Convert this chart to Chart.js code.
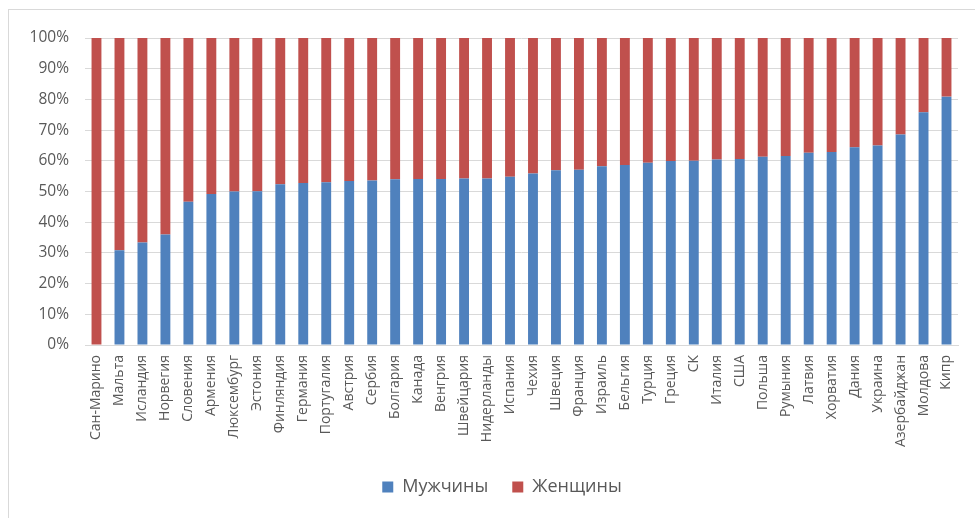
<!DOCTYPE html>
<html>
<head>
<meta charset="utf-8">
<script src="https://cdn.jsdelivr.net/npm/chart.js@4.4.1/dist/chart.umd.min.js"></script>
<style>
  html, body { margin: 0; padding: 0; background: #fff; overflow: hidden; }
  #wrap { position: relative; width: 975px; height: 518px; }
  #frame { position: absolute; left: 8px; top: 9px; width: 1200px; height: 800px;
           border: 1px solid #d9d9d9; box-sizing: border-box; }
  canvas { position: absolute; left: 0; top: 0; }
</style>
</head>
<body>
<div id="wrap">
  <div id="frame"></div>
  <canvas id="chart" width="975" height="518"></canvas>
</div>
<script>
// Countries, sorted by the share of men
const countries = ['Сан-Марино', 'Мальта', 'Исландия', 'Норвегия', 'Словения', 'Армения',
  'Люксембург', 'Эстония', 'Финляндия', 'Германия', 'Португалия', 'Австрия', 'Сербия',
  'Болгария', 'Канада', 'Венгрия', 'Швейцария', 'Нидерланды', 'Испания', 'Чехия',
  'Швеция', 'Франция', 'Израиль', 'Бельгия', 'Турция', 'Греция', 'СК', 'Италия', 'США',
  'Польша', 'Румыния', 'Латвия', 'Хорватия', 'Дания', 'Украина', 'Азербайджан',
  'Молдова', 'Кипр'];

// Share of men, %
const men = [0, 30.9, 33.4, 36.0, 46.7, 49.2, 50.0, 50.1, 52.4, 52.8, 53.0, 53.4, 53.6,
  54.0, 54.1, 54.1, 54.2, 54.2, 54.8, 55.9, 56.9, 57.1, 58.2, 58.6, 59.4, 59.9, 60.0,
  60.4, 60.6, 61.3, 61.6, 62.6, 62.9, 64.4, 65.0, 68.6, 75.8, 80.9];

// Share of women, %
const women = [100, 69.1, 66.6, 64.0, 53.3, 50.8, 50.0, 49.9, 47.6, 47.2, 47.0, 46.6, 46.4,
  46.0, 45.9, 45.9, 45.8, 45.8, 45.2, 44.1, 43.1, 42.9, 41.8, 41.4, 40.6, 40.1, 40.0,
  39.6, 39.4, 38.7, 38.4, 37.4, 37.1, 35.6, 35.0, 31.4, 24.2, 19.1];

// Y axis ticks, %
const yTicks = [0, 10, 20, 30, 40, 50, 60, 70, 80, 90, 100];

const FONT = '"Open Sans", "Liberation Sans", sans-serif';
const TEXT = '#595959';
const GRID = '#d9d9d9';

// Nudges the legend row to the right of the plot's centre line
const legendShift = {
  id: 'legendShift',
  afterLayout(chart) {
    const lg = chart.legend;
    if (lg) { lg.left += 46; }
  }
};

new Chart(document.getElementById('chart'), {
  type: 'bar',
  data: {
    labels: countries,
    datasets: [
      { label: 'Мужчины', data: men, backgroundColor: '#4F81BD',
        categoryPercentage: 0.43, barPercentage: 1 },
      { label: 'Женщины', data: women, backgroundColor: '#C0504D',
        categoryPercentage: 0.43, barPercentage: 1 }
    ]
  },
  plugins: [legendShift],
  options: {
    responsive: false,
    animation: false,
    devicePixelRatio: 1,
    layout: { padding: { top: 38, right: 17, bottom: 12, left: 0 } },
    plugins: {
      tooltip: { enabled: false },
      legend: {
        position: 'bottom',
        labels: {
          font: { family: FONT, size: 18 },
          color: TEXT,
          boxWidth: 11,
          boxHeight: 11,
          padding: 24
        }
      }
    },
    scales: {
      x: {
        stacked: true,
        grid: { display: false, drawTicks: false },
        border: { display: true, color: GRID, width: 1 },
        ticks: {
          font: { family: FONT, size: 14 },
          color: TEXT,
          minRotation: 90,
          maxRotation: 90,
          autoSkip: false,
          padding: 10
        },
        afterFit: s => { s.height = 109; }
      },
      y: {
        stacked: true,
        min: 0,
        max: 100,
        afterBuildTicks: s => { s.ticks = yTicks.map(v => ({ value: v })); },
        grid: { color: GRID, lineWidth: 1, drawTicks: false },
        border: { display: false },
        ticks: {
          font: { family: FONT, size: 15.5 },
          color: TEXT,
          padding: 16,
          callback: v => v + '%'
        },
        afterFit: s => { s.width = 85; }
      }
    }
  }
});
</script>
</body>
</html>
